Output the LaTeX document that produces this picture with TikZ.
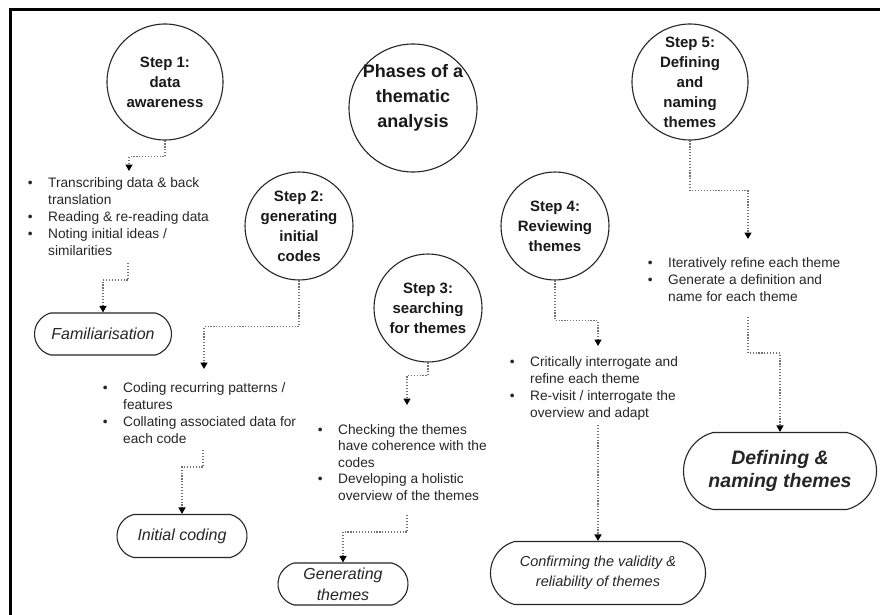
\documentclass[tikz,border=0pt]{standalone}
\usepackage{fontspec}
\setmainfont{Liberation Sans}
\usetikzlibrary{arrows.meta,shapes.misc}
\begin{document}
\begin{tikzpicture}[x=1pt,y=-1pt,
  stepc/.style={circle,draw=black!85,line width=1.1pt,inner sep=0pt,align=center,text=black!90,
    font=\fontsize{15}{20}\selectfont\bfseries},
  pill/.style={rounded rectangle,rounded rectangle arc length=150,draw=black!85,line width=1.1pt,
    inner sep=0pt,align=center,text=black!85,font=\fontsize{16}{21}\selectfont\itshape},
  conn/.style={line width=1.3pt,dash pattern=on 1.2pt off 1.7pt,draw=black!55,
    -{Triangle[width=7pt,length=6.5pt,color=black]}},
  blist/.style={anchor=base west,inner sep=0pt,text=black!85,font=\fontsize{13.7}{17}\selectfont}]
\useasboundingbox (0,0) rectangle (880,615);
\fill[white] (0,0) rectangle (880,615);
% frame
\draw[line width=3.5pt] (880,9.5) -- (10.5,9.5) -- (10.5,615);

% circles
\node[stepc,minimum size=116pt] (s1) at (165,82) {Step 1:\\data\\awareness};
\node[stepc,minimum size=128pt] (ph) at (413,108) {};
\node[inner sep=0pt,align=center,text=black!90,font=\fontsize{18}{25}\selectfont\bfseries] (pht) at (413,98) {Phases of a\\thematic\\analysis};
\node[stepc,minimum size=108pt] (s2) at (299,226) {Step 2:\\generating\\initial\\codes};
\node[stepc,minimum size=108pt] (s3) at (428,308) {Step 3:\\searching\\for themes};
\node[stepc,minimum size=108pt] (s4) at (555,226) {Step 4:\\Reviewing\\themes};
\node[stepc,minimum size=116pt] (s5) at (690,82) {Step 5:\\Defining\\and\\naming\\themes};

% outcome boxes
\node[pill,minimum width=137pt,minimum height=42pt] (fam) at (103,334) {Familiarisation};
\node[pill,minimum width=130pt,minimum height=43pt] (ic) at (182,536) {Initial coding};
\node[pill,minimum width=130pt,minimum height=42pt] (gt) at (343,584) {Generating\\themes};
\node[pill,minimum width=215pt,minimum height=63pt,font=\fontsize{14.5}{20}\selectfont\itshape] (cv) at (598,573) {Confirming the validity \&\\reliability of themes};
\node[pill,minimum width=193pt,minimum height=77pt,font=\fontsize{19.5}{23}\selectfont\bfseries\itshape] (dn) at (780,471) {Defining \&\\naming themes};

% bullet lists
\node[blist] (l1) at (27.6,187.5) {\begin{tabular}[t]{@{}p{20.4pt}@{}l@{}}
\textbullet & Transcribing data \& back\\ & translation\\
\textbullet & Reading \& re-reading data\\
\textbullet & Noting initial ideas /\\ & similarities\end{tabular}};
\node[blist] (l2) at (102.6,392) {\begin{tabular}[t]{@{}p{20.4pt}@{}l@{}}
\textbullet & Coding recurring patterns /\\ & features\\
\textbullet & Collating associated data for\\ & each code\end{tabular}};
\node[blist,font=\fontsize{13.7}{16.5}\selectfont] (l3) at (317.6,434) {\begin{tabular}[t]{@{}p{20.4pt}@{}l@{}}
\textbullet & Checking the themes\\ & have coherence with the\\ & codes\\
\textbullet & Developing a holistic\\ & overview of the themes\end{tabular}};
\node[blist] (l4) at (509.6,366) {\begin{tabular}[t]{@{}p{20.4pt}@{}l@{}}
\textbullet & Critically interrogate and\\ & refine each theme\\
\textbullet & Re-visit / interrogate the\\ & overview and adapt\end{tabular}};
\node[blist] (l5) at (647.6,267) {\begin{tabular}[t]{@{}p{20.4pt}@{}l@{}}
\textbullet & Iteratively refine each theme\\
\textbullet & Generate a definition and\\ & name for each theme\end{tabular}};

% connector ends
\coordinate (t1) at (129,171);
\coordinate (a2) at (128,263);
\coordinate (t3) at (204,369);
\coordinate (a4) at (203,450);
\coordinate (t5) at (407,405);
\coordinate (a6) at (407,515);
\coordinate (t7) at (598,346);
\coordinate (a8) at (598,425);
\coordinate (t9) at (748,239);
\coordinate (a10) at (748,317);

% connectors
\draw[conn] (s1.south) -- ++(0,16) -| (t1);
\draw[conn] (a2) -- ++(0,17) -| (fam.north);
\draw[conn] (s2.south) -- ++(0,46) -| (t3);
\draw[conn] (a4) -- ++(0,17) -| (ic.north);
\draw[conn] (s3.south) -- ++(0,13) -| (t5);
\draw[conn] (a6) -- ++(0,17) -| (gt.north);
\draw[conn] (s4.south) -- ++(0,40) -| (t7);
\draw[conn] (a8) -- (cv.north);
\draw[conn] (s5.south) -- ++(0,50) -| (t9);
\draw[conn] (a10) -- ++(0,36) -| (dn.north);
\end{tikzpicture}
\end{document}
